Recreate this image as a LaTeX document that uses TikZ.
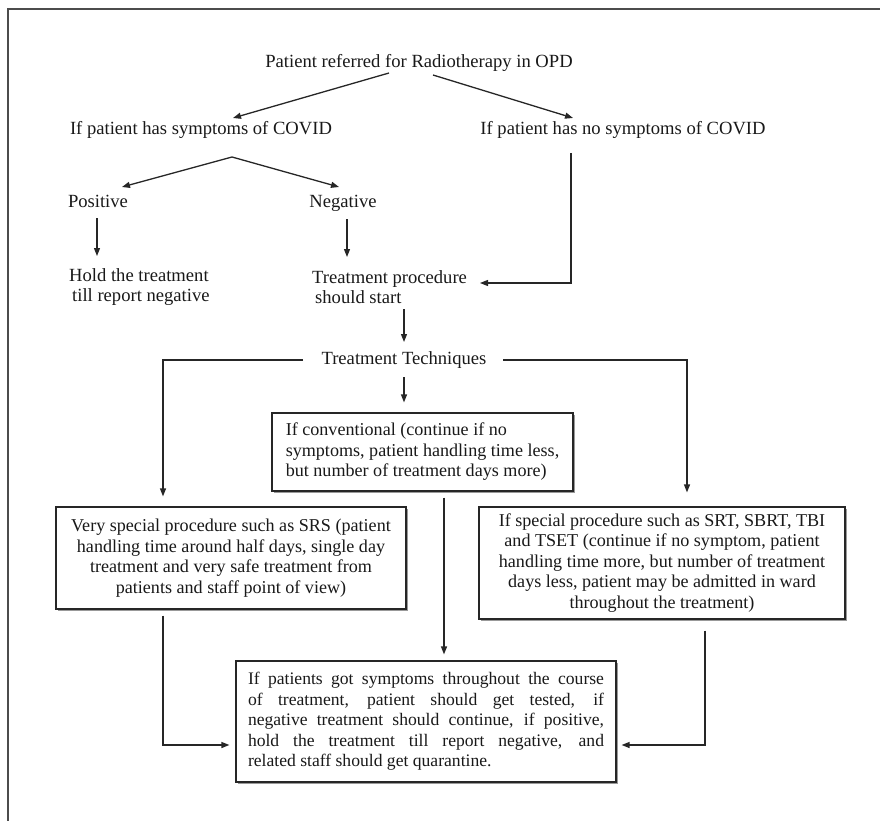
\documentclass[tikz,border=0pt]{standalone}
\usepackage{fontspec}
\setmainfont{Liberation Serif}
\usetikzlibrary{arrows.meta,shadows}
\begin{document}
\begin{tikzpicture}[x=1pt,y=-1pt,
  every node/.style={font=\fontsize{18.6}{20.5}\selectfont, text=black!90},
  lbl/.style={inner sep=0pt, text height=13pt, text depth=4pt},
  twoline/.style={inner sep=0pt, anchor=west, align=left},
  box/.style={draw=black!85, line width=1.2pt, fill=white,
    font=\fontsize{18.1}{20.5}\selectfont,
    drop shadow={shadow xshift=1.6pt, shadow yshift=-1.6pt, fill=black!50, opacity=0.8},
    inner sep=0pt},
  smallbox/.style={font=\fontsize{17.6}{20.5}\selectfont},
  arr/.style={draw=black!85, line width=1.3pt, -{Triangle[length=8pt,width=6pt]}},
  frame/.style={draw=black!70, line width=2pt}
]
\useasboundingbox (0,0) rectangle (880,821);
\draw[frame] (880,9.5) -- (8,9.5) -- (8,821);

% plain text nodes
\node[lbl] (title) at (419,63) {Patient referred for Radiotherapy in OPD};
\node[lbl] (symp) at (201,130) {If patient has symptoms of COVID};
\node[lbl] (nosymp) at (623,130) {If patient has no symptoms of COVID};
\node[lbl] (pos) at (98,203) {Positive};
\node[lbl] (neg) at (343,203) {Negative};
\node[twoline] (hold) at (69,287) {Hold the treatment\\\hspace*{3pt}till report negative};
\node[twoline] (tps) at (312,287) {Treatment procedure\\\hspace*{3pt}should start};
\node[lbl] (tt) at (404,360) {Treatment Techniques};

% boxes
\node[box, minimum width=301pt, minimum height=78pt, align=left] (conv) at (422.5,452)
  {If conventional (continue if no\\symptoms, patient handling time less,\\but number of treatment days more)};
\node[box, minimum width=350pt, minimum height=102pt, align=center] (lbox) at (231,558)
  {Very special procedure such as SRS (patient\\handling time around half days, single day\\treatment and very safe treatment from\\patients and staff point of view)};
\node[box, minimum width=366pt, minimum height=112pt, align=center] (rbox) at (662,563)
  {If special procedure such as SRT, SBRT, TBI\\and TSET (continue if no symptom, patient\\handling time more, but number of treatment\\days less, patient may be admitted in ward\\throughout the treatment)};
\node[box, smallbox, minimum width=380pt, minimum height=121pt, align=left] (bbox) at (426,721.5)
  {\makebox[356pt][s]{If patients got symptoms throughout the course}\\
   \makebox[356pt][s]{of treatment, patient should get tested, if}\\
   \makebox[356pt][s]{negative treatment should continue, if positive,}\\
   \makebox[356pt][s]{hold the treatment till report negative, and}\\
   \makebox[356pt][l]{related staff should get quarantine.}};

% connectors
\draw[arr] ([shift={(-30,10)}]title.center) -- ([shift={(32,-12)}]symp.center);
\draw[arr] ([shift={(14,12)}]title.center) -- ([shift={(-50,-12)}]nosymp.center);
\draw[arr] ([shift={(31,27)}]symp.center) -- ([shift={(24,-16)}]pos.center);
\draw[arr] ([shift={(31,27)}]symp.center) -- ([shift={(-4,-16)}]neg.center);
\draw[arr] ([shift={(-1,15)}]pos.center) -- ([shift={(28,-31)}]hold.west);
\draw[arr] ([shift={(4,16)}]neg.center) -- ([shift={(35,-30)}]tps.west);
\draw[arr] ([shift={(-52,23)}]nosymp.center) |- ([shift={(168,-4)}]tps.west);
\draw[arr] ([shift={(92,22)}]tps.west) -- ([shift={(0,-18)}]tt.center);
\draw[arr] ([shift={(-101,0)}]tt.center) -| ([shift={(-68,-10)}]lbox.north);
\draw[arr] ([shift={(99,0)}]tt.center) -| ([shift={(25,-14)}]rbox.north);
\draw[arr] ([shift={(0,17)}]tt.center) -- ([shift={(-18.5,-10)}]conv.north);
\draw[arr] ([shift={(21.5,6)}]conv.south) -- ([shift={(18,-6)}]bbox.north);
\draw[arr] ([shift={(-68,6)}]lbox.south) |- ([shift={(-6,23.5)}]bbox.west);
\draw[arr] ([shift={(43,11)}]rbox.south) |- ([shift={(5,23.5)}]bbox.east);
\end{tikzpicture}
\end{document}
